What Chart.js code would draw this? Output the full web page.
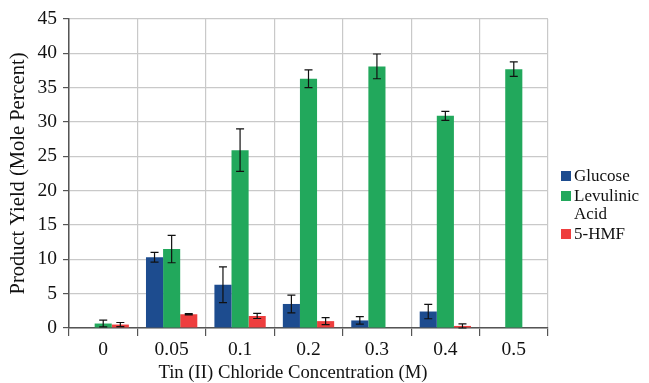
<!DOCTYPE html>
<html>
<head>
<meta charset="utf-8">
<script src="https://cdn.jsdelivr.net/npm/chart.js@4"></script>
<style>
    html, body { margin: 0; padding: 0; background: #fff; }
    #wrap { position: relative; width: 649px; height: 383px; }
    #legend {
        position: absolute; left: 561px; top: 167px;
        font-family: "Liberation Serif", "DejaVu Serif", serif;
        font-size: 17px; color: #111; line-height: 18px;
    }
    .item { display: flex; align-items: flex-start; margin-bottom: 2px; }
    .box { width: 10px; height: 10px; margin: 4px 3px 0 0; flex: none; }
    #xTitle {
        position: absolute; left: 0; width: 586px; top: 361px;
        text-align: center; line-height: 22px;
        font-family: "Liberation Serif", "DejaVu Serif", serif;
        font-size: 18.7px; color: #111;
    }
</style>
</head>
<body>
<div id="wrap">
    <canvas id="chart" width="649" height="383"></canvas>
    <div id="legend"></div>
    <div id="xTitle">Tin (II) Chloride Concentration (M)</div>
</div>
<script>
// Data
const concentrations = ['0', '0.05', '0.1', '0.2', '0.3', '0.4', '0.5'];
const glucose = [0, 10.3, 6.3, 3.5, 1.1, 2.4, 0];
const glucoseErr = [0, 0.7, 2.6, 1.3, 0.55, 1.05, 0];
const levulinic = [0.65, 11.5, 25.9, 36.3, 38.1, 30.9, 37.7];
const levulinicErr = [0.5, 2.0, 3.1, 1.3, 1.8, 0.65, 1.05];
const hmf = [0.5, 2.0, 1.75, 1.0, 0, 0.3, 0];
const hmfErr = [0.3, 0.1, 0.37, 0.5, 0, 0.3, 0];
const yTicks = [0, 5, 10, 15, 20, 25, 30, 35, 40, 45];

const serif = '"Liberation Serif", "DejaVu Serif", serif';

const series = [
    { label: 'Glucose', data: glucose, err: glucoseErr, color: '#1d4c8f' },
    { label: 'Levulinic Acid', data: levulinic, err: levulinicErr, color: '#22a85c' },
    { label: '5-HMF', data: hmf, err: hmfErr, color: '#ee3e3e' },
];

/**
 * Draw error bars on top of each bar using the y scale
 */
const errorBars = {
    id: 'errorBars',
    afterDatasetsDraw(chart) {
        const ctx = chart.ctx;
        const yScale = chart.scales.y;
        ctx.save();
        ctx.strokeStyle = '#111';
        ctx.lineWidth = 1.2;
        chart.data.datasets.forEach((ds, di) => {
            const meta = chart.getDatasetMeta(di);
            meta.data.forEach((bar, i) => {
                const e = ds.errors[i];
                if (!e) return;
                const v = ds.data[i];
                const yTop = yScale.getPixelForValue(v + e);
                const yBot = yScale.getPixelForValue(Math.max(0, v - e));
                const x = bar.x;
                ctx.beginPath();
                ctx.moveTo(x, yTop); ctx.lineTo(x, yBot);
                ctx.moveTo(x - 4, yTop); ctx.lineTo(x + 4, yTop);
                ctx.moveTo(x - 4, yBot); ctx.lineTo(x + 4, yBot);
                ctx.stroke();
            });
        });
        ctx.restore();
    }
};

const chart = new Chart(document.getElementById('chart'), {
    type: 'bar',
    data: {
        labels: concentrations,
        datasets: series.map(s => ({
            label: s.label,
            data: s.data,
            errors: s.err,
            backgroundColor: s.color,
            borderWidth: 0,
            barPercentage: 1,
            categoryPercentage: 0.75,
        })),
    },
    options: {
        responsive: false,
        animation: false,
        layout: { padding: { top: 19, right: 101, left: 0, bottom: 0 } },
        plugins: {
            legend: { display: false },
            tooltip: { enabled: false },
        },
        scales: {
            x: {
                grid: {
                    offset: true,
                    color: '#c9c9c9',
                    tickColor: '#555',
                    tickLength: 8,
                    lineWidth: 1.2,
                },
                border: { color: '#555', width: 1.5 },
                ticks: { color: '#111', font: { family: serif, size: 19.5 }, padding: 2 },
                afterFit(scale) { scale.height = 55; },
            },
            y: {
                min: 0,
                max: 45,
                afterBuildTicks(scale) { scale.ticks = yTicks.map(v => ({ value: v })); },
                grid: {
                    color: '#c9c9c9',
                    tickColor: '#555',
                    tickLength: 6,
                    lineWidth: 1.2,
                },
                border: { color: '#555', width: 1.5 },
                ticks: { color: '#111', font: { family: serif, size: 19.5 }, padding: 6 },
                title: {
                    display: true,
                    text: 'Product Yield (Mole Percent)',
                    color: '#111',
                    font: { family: serif, size: 20.5 },
                    padding: { top: 6, bottom: 6 },
                },
                afterFit(scale) { scale.width = 69; },
            },
        },
    },
    plugins: [errorBars],
});

// HTML legend so "Levulinic Acid" can wrap like the original
const legend = document.getElementById('legend');
const legendText = ['Glucose', 'Levulinic<br>Acid', '5-HMF'];
series.forEach((s, i) => {
    const item = document.createElement('div');
    item.className = 'item';
    item.innerHTML = `<span class="box" style="background:${s.color}"></span><span>${legendText[i]}</span>`;
    legend.appendChild(item);
});
</script>
</body>
</html>
